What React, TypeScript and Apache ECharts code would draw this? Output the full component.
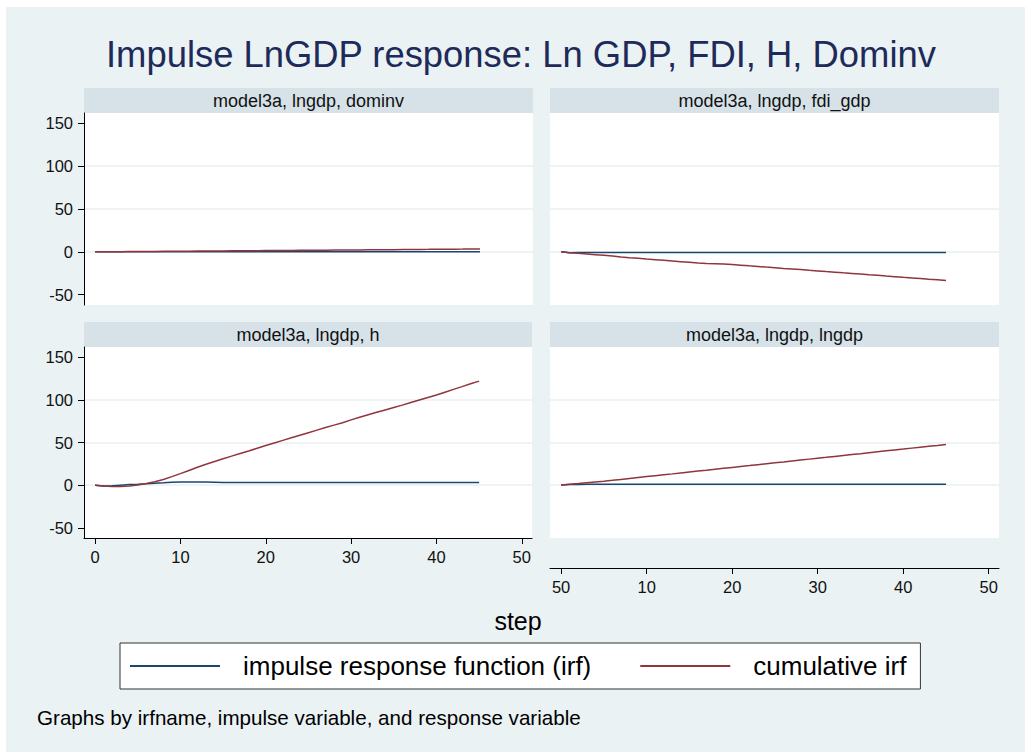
import React, { useEffect, useRef } from "react";
import * as echarts from "echarts";

const TITLE = "Impulse LnGDP response: Ln GDP, FDI, H, Dominv";
const X_TITLE = "step";
const NOTE = "Graphs by irfname, impulse variable, and response variable";
const SERIES_NAMES = ["impulse response function (irf)", "cumulative irf"];
const PANEL_TITLES = [
  "model3a, lngdp, dominv",
  "model3a, lngdp, fdi_gdp",
  "model3a, lngdp, h",
  "model3a, lngdp, lngdp",
];

const Y_TICKS = [-50, 0, 50, 100, 150];
const X_TICKS = [0, 10, 20, 30, 40, 50];
const X_LABELS_LEFT = ["0", "10", "20", "30", "40", "50"];
const X_LABELS_RIGHT = ["50", "10", "20", "30", "40", "50"];

const STEPS = [
  0, 1, 2, 3, 4, 5, 6, 7, 8, 9, 10, 11, 12, 13, 14, 15, 16, 17, 18, 19, 20, 21, 22,
  23, 24, 25, 26, 27, 28, 29, 30, 31, 32, 33, 34, 35, 36, 37, 38, 39, 40, 41, 42,
  43, 44, 45,
];

// model3a, lngdp -> dominv
const IRF_DOMINV = [
  0, 0.05, 0.05, 0.1, 0.1, 0.05, 0.1, 0.05, 0.1, 0.05, 0.1, 0.05, 0.1, 0.05, 0.1,
  0.05, 0.1, 0.05, 0.1, 0.05, 0.1, 0.05, 0.1, 0.05, 0.1, 0.05, 0.1, 0.05, 0.1, 0.05,
  0.1, 0.05, 0.1, 0.05, 0.1, 0.05, 0.1, 0.05, 0.1, 0.05, 0.1, 0.05, 0.1, 0.05, 0.1,
  0.05,
];
const CIRF_DOMINV = [
  0, 0.05, 0.1, 0.2, 0.3, 0.35, 0.45, 0.5, 0.6, 0.65, 0.75, 0.8, 0.9, 0.95, 1.05,
  1.1, 1.2, 1.25, 1.35, 1.4, 1.5, 1.55, 1.65, 1.7, 1.8, 1.85, 1.95, 2.0, 2.1, 2.15,
  2.25, 2.3, 2.4, 2.45, 2.55, 2.6, 2.7, 2.75, 2.85, 2.9, 3.0, 3.05, 3.15, 3.2, 3.3,
  3.35,
];

// model3a, lngdp -> fdi_gdp
const IRF_FDI = [
  0, -0.9, -0.8, -0.8, -0.8, -0.8, -0.8, -0.8, -0.8, -0.8, -0.8, -0.7, -0.7, -0.8,
  -0.8, -0.8, -0.8, -0.7, -0.7, -0.7, -0.7, -0.7, -0.8, -0.7, -0.8, -0.7, -0.8,
  -0.7, -0.7, -0.8, -0.7, -0.8, -0.7, -0.8, -0.7, -0.7, -0.8, -0.7, -0.8, -0.7,
  -0.8, -0.7, -0.7, -0.8, -0.7, -0.8,
];
const CIRF_FDI = [
  0, -0.9, -1.7, -2.5, -3.3, -4.1, -4.9, -5.9, -6.8, -7.6, -8.4, -9.1, -9.8, -10.6,
  -11.4, -12.2, -13.0, -13.5, -13.8, -14.1, -14.8, -15.5, -16.3, -17.0, -17.8,
  -18.5, -19.3, -20.0, -20.7, -21.5, -22.2, -23.0, -23.7, -24.5, -25.2, -25.9,
  -26.7, -27.4, -28.2, -28.9, -29.7, -30.4, -31.1, -31.9, -32.6, -33.4,
];

// model3a, lngdp -> h
const IRF_H = [
  0, -1.0, -0.6, 0.0, 0.6, 1.1, 1.7, 2.2, 2.7, 3.3, 3.6, 3.7, 3.7, 3.6, 3.5, 3.2,
  3.0, 3.0, 3.0, 3.0, 3.0, 3.0, 3.0, 3.0, 3.0, 3.0, 3.0, 3.0, 3.0, 3.0, 3.0, 3.0,
  3.0, 3.0, 3.0, 3.0, 3.0, 3.0, 3.0, 3.0, 3.0, 3.0, 3.0, 3.0, 3.0, 3.0,
];
const CIRF_H = [
  0, -1.0, -1.6, -1.6, -1.0, 0.1, 1.8, 4.0, 6.7, 10.0, 13.5, 17.2, 20.9, 24.4, 27.8,
  31.0, 34.0, 37.0, 40.0, 43.3, 46.4, 49.5, 52.5, 55.5, 58.5, 61.5, 64.5, 67.5,
  70.4, 73.2, 76.5, 79.6, 82.5, 85.4, 88.2, 91.0, 93.8, 96.9, 99.9, 102.8, 105.7,
  109.0, 112.3, 115.5, 118.8, 122.0,
];

// model3a, lngdp -> lngdp
const IRF_LNGDP = [
  0.3, 0.8, 0.8, 0.9, 0.9, 0.9, 1.0, 1.1, 1.1, 1.1, 1.1, 1.1, 1.1, 1.1, 1.1, 1.1,
  1.1, 1.1, 1.1, 1.1, 1.1, 1.1, 1.1, 1.1, 1.1, 1.1, 1.1, 1.1, 1.1, 1.1, 1.1, 1.1,
  1.1, 1.1, 1.1, 1.1, 1.1, 1.1, 1.1, 1.1, 1.1, 1.1, 1.1, 1.1, 1.1, 1.1,
];
const CIRF_LNGDP = [
  0.3, 1.1, 1.9, 2.8, 3.7, 4.6, 5.6, 6.7, 7.8, 8.9, 10.0, 11.1, 12.2, 13.2, 14.3,
  15.4, 16.5, 17.5, 18.6, 19.7, 20.8, 21.9, 22.9, 24.0, 25.1, 26.2, 27.2, 28.3,
  29.4, 30.5, 31.6, 32.6, 33.7, 34.8, 35.9, 36.9, 38.0, 39.1, 40.2, 41.3, 42.3,
  43.4, 44.5, 45.6, 46.6, 47.7,
];

const PANEL_IRF = [IRF_DOMINV, IRF_FDI, IRF_H, IRF_LNGDP];
const PANEL_CIRF = [CIRF_DOMINV, CIRF_FDI, CIRF_H, CIRF_LNGDP];

const FONT = "'Liberation Sans', Arial, Helvetica, sans-serif";
const BG = "#eaf2f3";
const STRIP = "#d6e2e8";
const GRIDLINE = "#e8f0f1";
const NAVY = "#1a476f";
const MAROON = "#90353b";

// panel boxes in chart coordinates (chart div is offset 6,7 in page)
const PANELS = [
  { left: 78, top: 106, width: 449, height: 192 },
  { left: 544, top: 106, width: 449, height: 192 },
  { left: 78, top: 340, width: 448, height: 191 },
  { left: 544, top: 340, width: 449, height: 191 },
];
const STRIP_H = 25;

function buildOption() {
  const grid = PANELS.map((p) => ({
    left: p.left,
    top: p.top,
    width: p.width,
    height: p.height,
    show: true,
    backgroundColor: "#ffffff",
    borderWidth: 0,
    containLabel: false,
  }));

  const xAxis = PANELS.map((_, i) => {
    const shown = i >= 2;
    const labels = i === 3 ? X_LABELS_RIGHT : X_LABELS_LEFT;
    return {
      type: "value",
      gridIndex: i,
      min: -1.3,
      max: 51.2,
      show: shown,
      position: "bottom",
      offset: i === 3 ? 30 : 0,
      axisLine: { show: shown, onZero: false, lineStyle: { color: "#000", width: 1 } },
      axisTick: {
        show: shown,
        length: 6,
        customValues: X_TICKS,
        lineStyle: { color: "#000", width: 1 },
      },
      axisLabel: {
        show: shown,
        customValues: X_TICKS,
        margin: 10,
        fontSize: 16.5,
        color: "#111",
        fontFamily: FONT,
        formatter: (v: number) => {
          const k = X_TICKS.indexOf(Math.round(v));
          return k >= 0 ? labels[k] : "";
        },
      },
      splitLine: { show: false },
    };
  });

  const yAxis = PANELS.map((_, i) => {
    const shown = i === 0 || i === 2;
    return {
      type: "value",
      gridIndex: i,
      min: -62,
      max: 162,
      axisLine: { show: shown, onZero: false, lineStyle: { color: "#000", width: 1 } },
      axisTick: {
        show: shown,
        length: 6,
        customValues: Y_TICKS,
        lineStyle: { color: "#000", width: 1 },
      },
      axisLabel: {
        show: shown,
        customValues: Y_TICKS,
        margin: 11,
        fontSize: 16.5,
        color: "#111",
        fontFamily: FONT,
      },
      splitLine: {
        show: true,
        showMinLine: false,
        showMaxLine: false,
        customValues: Y_TICKS,
        lineStyle: { color: GRIDLINE, width: 1.5 },
      },
    };
  });

  const series: any[] = [];
  PANELS.forEach((_, i) => {
    series.push({
      type: "line",
      name: SERIES_NAMES[0],
      xAxisIndex: i,
      yAxisIndex: i,
      symbol: "none",
      showSymbol: false,
      lineStyle: { color: NAVY, width: 1.5 },
      itemStyle: { color: NAVY },
      data: STEPS.map((s, k) => [s, PANEL_IRF[i][k]]),
      z: 2,
    });
    series.push({
      type: "line",
      name: SERIES_NAMES[1],
      xAxisIndex: i,
      yAxisIndex: i,
      symbol: "none",
      showSymbol: false,
      lineStyle: { color: MAROON, width: 1.5 },
      itemStyle: { color: MAROON },
      data: STEPS.map((s, k) => [s, PANEL_CIRF[i][k]]),
      z: 3,
    });
  });

  const graphic: any[] = [];
  PANELS.forEach((p, i) => {
    graphic.push({
      type: "rect",
      shape: { x: p.left, y: p.top - STRIP_H, width: p.width, height: STRIP_H },
      style: { fill: STRIP },
      silent: true,
    });
    graphic.push({
      type: "text",
      x: p.left + p.width / 2,
      y: p.top - STRIP_H / 2,
      style: {
        text: PANEL_TITLES[i],
        fontSize: 18,
        fontFamily: FONT,
        fill: "#111",
        align: "center",
        verticalAlign: "middle",
      },
      silent: true,
    });
  });
  graphic.push({
    type: "text",
    x: 512,
    y: 614,
    style: {
      text: X_TITLE,
      fontSize: 25,
      fontFamily: FONT,
      fill: "#000",
      align: "center",
      verticalAlign: "middle",
    },
  });
  graphic.push({
    type: "text",
    x: 31,
    y: 710,
    style: {
      text: NOTE,
      fontSize: 20.6,
      fontFamily: FONT,
      fill: "#000",
      align: "left",
      verticalAlign: "middle",
    },
  });

  return {
    animation: false,
    backgroundColor: BG,
    title: {
      text: TITLE,
      left: 95,
      top: 24,
      padding: 5,
      textStyle: {
        fontSize: 36.4,
        fontWeight: "normal",
        color: "#1e2a5a",
        fontFamily: FONT,
      },
    },
    legend: {
      data: SERIES_NAMES,
      left: 114,
      top: 636,
      orient: "horizontal",
      backgroundColor: "#ffffff",
      borderColor: "#333",
      borderWidth: 1,
      borderRadius: 0,
      padding: [10, 14, 10, 10],
      icon: "rect",
      itemWidth: 90,
      itemHeight: 2,
      itemGap: 49,
      selectedMode: false,
      textStyle: {
        fontSize: 26,
        color: "#000",
        fontFamily: FONT,
        padding: [0, 0, 0, 18],
      },
    },
    grid,
    xAxis,
    yAxis,
    series,
    graphic,
  };
}

export default function App() {
  const ref = useRef<HTMLDivElement>(null);
  useEffect(() => {
    if (!ref.current) return;
    const chart = echarts.init(ref.current, null, { renderer: "svg" });
    chart.setOption(buildOption() as any);
    return () => chart.dispose();
  }, []);
  return (
    <div
      style={{
        position: "absolute",
        left: 0,
        top: 0,
        width: 1025,
        height: 752,
        background: "#ffffff",
        overflow: "hidden",
      }}
    >
      <div
        ref={ref}
        style={{ position: "absolute", left: 6, top: 7, width: 1019, height: 745 }}
      />
    </div>
  );
}
